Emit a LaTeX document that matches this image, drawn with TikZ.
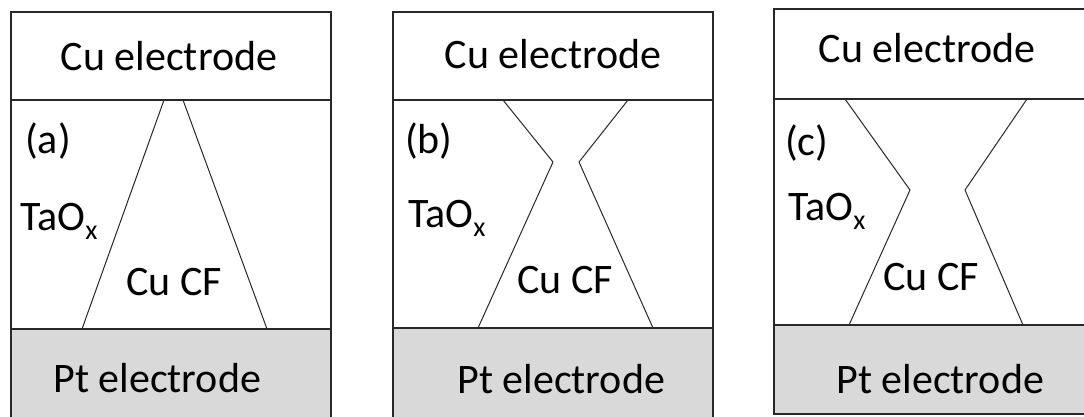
\documentclass[tikz,border=0pt]{standalone}
\usepackage{fontspec}
\setmainfont{Carlito}
\definecolor{mygrey}{RGB}{217,217,217}
\definecolor{myline}{RGB}{40,40,40}
\newcommand{\subx}{\raisebox{-9pt}{\fontsize{28}{30}\selectfont x}}
\tikzset{
  layer/.style={draw=myline, line width=1.6pt},
  ptfill/.style={fill=mygrey},
  cfline/.style={draw=myline, line width=1pt, line join=round},
  lbl/.style={inner sep=0pt, text=black, font=\fontsize{42}{50}\selectfont}
}

\begin{document}
\begin{tikzpicture}[x=1pt, y=-1pt]
  \useasboundingbox (0,0) rectangle (1084,416);

  % Panel (a)
  \fill[ptfill] (11,329) rectangle (331,420);
  \draw[layer] (11,12) rectangle (331,420);
  \draw[layer] (11,100) -- (331,100);
  \draw[layer] (11,329) -- (331,329);
  \draw[cfline] (164,100) -- (82,329);
  \draw[cfline] (183,100) -- (267,329);
  \node[lbl, anchor=base] (cu_a) at (169,70) {Cu electrode};
  \node[lbl, anchor=base] (pt_a) at (157,392) {Pt electrode};
  \node[lbl, anchor=base west] (tag_a) at (25,153) {(a)};
  \node[lbl, anchor=base west] (ox_a) at (20,230) {TaO\subx};
  \node[lbl, anchor=base west] (cf_a) at (126,295) {Cu CF};

  % Panel (b)
  \fill[ptfill] (393,328) rectangle (713,420);
  \draw[layer] (393,12) rectangle (713,420);
  \draw[layer] (393,100) -- (713,100);
  \draw[layer] (393,328) -- (713,328);
  \draw[cfline] (503,100) -- (553,162) -- (478,328);
  \draw[cfline] (628,100) -- (579,162) -- (653,328);
  \node[lbl, anchor=base] (cu_b) at (553,68) {Cu electrode};
  \node[lbl, anchor=base] (pt_b) at (561,393) {Pt electrode};
  \node[lbl, anchor=base west] (tag_b) at (405,153) {(b)};
  \node[lbl, anchor=base west] (ox_b) at (408,227) {TaO\subx};
  \node[lbl, anchor=base west] (cf_b) at (517,293) {Cu CF};

  % Panel (c)
  \fill[ptfill] (774,325) rectangle (1092,414);
  \draw[layer] (774,9) rectangle (1092,414);
  \draw[layer] (774,99) -- (1092,99);
  \draw[layer] (774,325) -- (1092,325);
  \draw[cfline] (845,99) -- (910,190) -- (849,325);
  \draw[cfline] (1027,99) -- (965,190) -- (1023,325);
  \node[lbl, anchor=base] (cu_c) at (927,62) {Cu electrode};
  \node[lbl, anchor=base] (pt_c) at (940,393) {Pt electrode};
  \node[lbl, anchor=base west] (tag_c) at (785,155) {(c)};
  \node[lbl, anchor=base west] (ox_c) at (788,220) {TaO\subx};
  \node[lbl, anchor=base west] (cf_c) at (883,290) {Cu CF};
\end{tikzpicture}
\end{document}
